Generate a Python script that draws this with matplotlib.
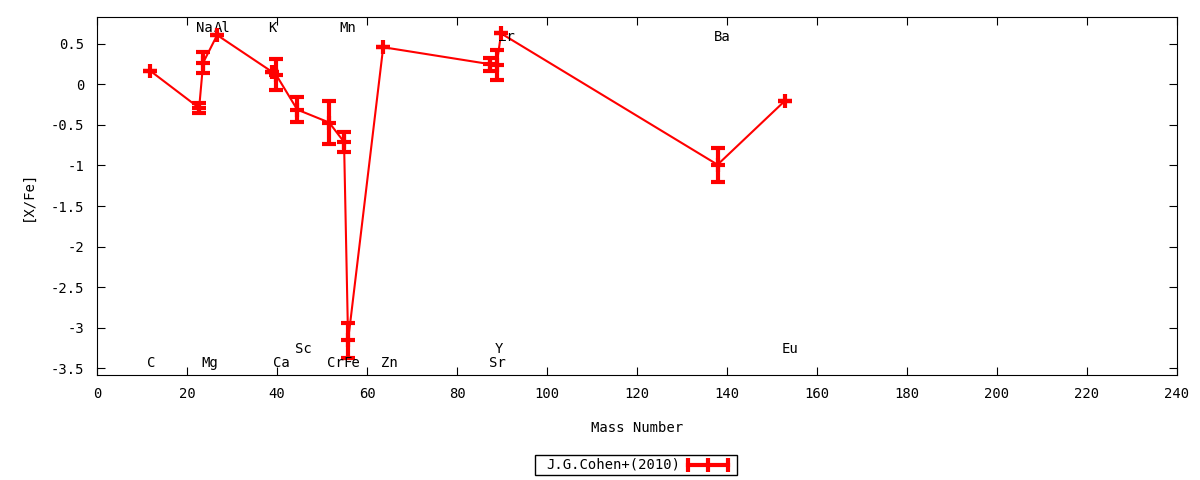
import numpy as np
import matplotlib
matplotlib.use("Agg")
import matplotlib.pyplot as plt
from matplotlib.lines import Line2D
from matplotlib.patches import Rectangle

plt.rcParams['font.family'] = ['DejaVu Sans Mono']
plt.rcParams['axes.unicode_minus'] = False

# values, in plotting order
elem = ["C", "Mg", "Na", "Al", "K", "Ca", "Sc", "Cr", "Mn", "Fe", "Zn", "Sr", "Y", "Zr", "Ba", "Eu"]
mass = [11.8, 22.7, 23.6, 26.7, 38.8, 39.8, 44.5, 51.6, 54.9, 55.8, 63.6, 87.4, 88.8, 89.8, 137.9, 152.9]
xfe = [0.17, -0.29, 0.27, 0.61, 0.16, 0.12, -0.31, -0.47, -0.71, -3.16, 0.46, 0.25, 0.24, 0.63, -0.99, -0.20]
err = [0.0, 0.065, 0.13, 0.0, 0.0, 0.19, 0.155, 0.26, 0.12, 0.22, 0.0, 0.08, 0.18, 0.0, 0.21, 0.0]

# element labels (x, y) as placed in the reference
lab_name = ["Na", "Al", "K", "Mn", "Zr", "Ba", "C", "Mg", "Ca", "Cr", "Fe", "Zn", "Sr", "Sc", "Y", "Eu"]
lab_x = [23.9, 27.7, 38.9, 55.8, 91.0, 138.9, 12.0, 25.0, 41.0, 53.0, 56.7, 65.0, 88.9, 45.8, 89.3, 154.0]
lab_y = [0.70, 0.70, 0.70, 0.70, 0.58, 0.58, -3.44, -3.44, -3.44, -3.44, -3.44, -3.44, -3.44, -3.26, -3.26, -3.26]

fs = 10

fig = plt.figure(figsize=(12, 4.8), dpi=100)
ax = fig.add_axes([97 / 1200, 1 - 375 / 480, 1080 / 1200, 358 / 480])

ax.plot(mass, xfe, '-', color='red', lw=1.5, zorder=2)
ax.errorbar(mass, xfe, yerr=err, fmt='+', color='red', ms=10, mew=3,
            elinewidth=3, capsize=5, capthick=3, zorder=3)

for n, x, y in zip(lab_name, lab_x, lab_y):
    ax.text(x, y, n, ha='center', va='center', fontsize=fs)

ax.set_xlim(0, 240)
ax.set_ylim(-3.586, 0.833)
ax.set_xticks(np.arange(0, 241, 20))
ax.set_yticks([0.5, 0, -0.5, -1, -1.5, -2, -2.5, -3, -3.5])
ax.set_yticklabels(["0.5", "0", "-0.5", "-1", "-1.5", "-2", "-2.5", "-3", "-3.5"])
ax.tick_params(direction='in', top=True, right=True, length=6, labelsize=fs, pad=9)
ax.set_xlabel("Mass Number", fontsize=fs, labelpad=14)
ax.set_ylabel("[X/Fe]", fontsize=fs, labelpad=12)

# gnuplot-style key below the plot
fig.add_artist(Rectangle((535 / 1200, 1 - 475 / 480), 202 / 1200, 20 / 480,
                         transform=fig.transFigure, fill=False, lw=1, ec='black'))
fig.text(680 / 1200, 1 - 465 / 480, "J.G.Cohen+(2010)", ha='right', va='center', fontsize=fs)
ly = 1 - 465 / 480
fig.add_artist(Line2D([688 / 1200, 728 / 1200], [ly, ly], transform=fig.transFigure,
                      color='red', lw=3))
fig.add_artist(Line2D([688 / 1200, 708 / 1200, 728 / 1200], [ly, ly, ly], transform=fig.transFigure,
                      color='red', lw=0, marker='|', ms=10, mew=3))

fig.savefig("out.png", dpi=100)
